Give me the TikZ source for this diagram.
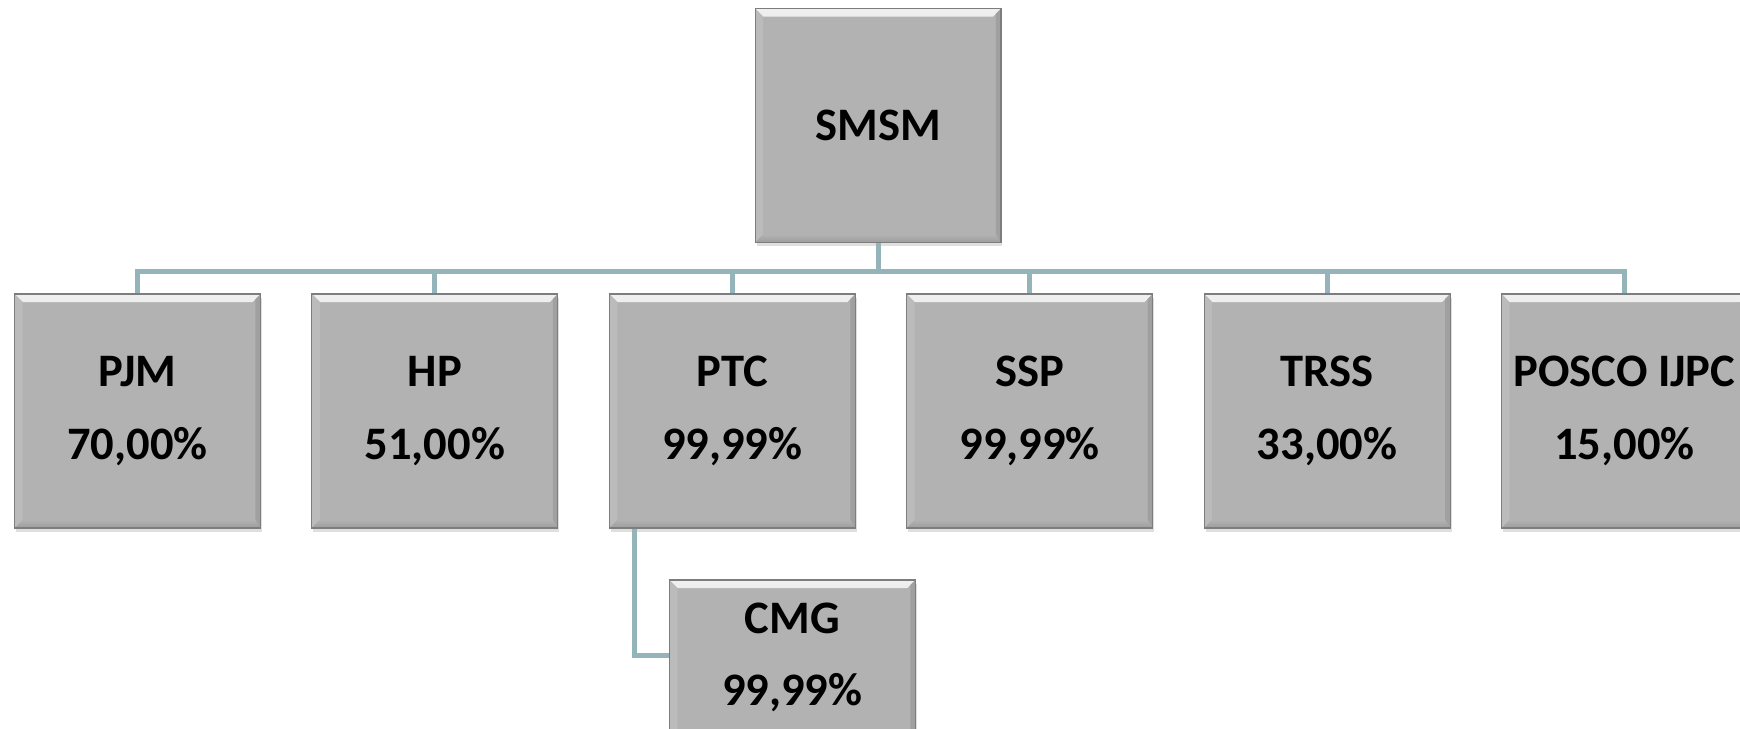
\documentclass[tikz,border=0pt]{standalone}
\usepackage{fontspec}
\setmainfont{Carlito}
\usepackage{xcolor}
\usetikzlibrary{positioning,shadows}

\definecolor{boxgray}{RGB}{178,178,178}
\definecolor{edgegray}{RGB}{125,125,125}
\definecolor{linkteal}{RGB}{147,181,185}

% bevel drawn inside every box
\newcommand{\boxbevel}{%
  \shade[top color=white!80!boxgray, bottom color=boxgray] (path picture bounding box.north west) -- (path picture bounding box.north east) -- ++(-0.16cm,-0.16cm) -- ([shift={(0.16cm,-0.16cm)}]path picture bounding box.north west) -- cycle;
  \fill[boxgray!88!white] (path picture bounding box.north west) -- ([shift={(0.16cm,-0.16cm)}]path picture bounding box.north west) -- ([shift={(0.16cm,0.16cm)}]path picture bounding box.south west) -- (path picture bounding box.south west) -- cycle;
  \fill[boxgray!90!black] (path picture bounding box.north east) -- ([shift={(-0.1cm,-0.1cm)}]path picture bounding box.north east) -- ([shift={(-0.1cm,0.16cm)}]path picture bounding box.south east) -- (path picture bounding box.south east) -- cycle;
  \shade[top color=boxgray, bottom color=boxgray!88!black] (path picture bounding box.south west) -- ([shift={(0.16cm,0.16cm)}]path picture bounding box.south west) -- ([shift={(-0.1cm,0.16cm)}]path picture bounding box.south east) -- (path picture bounding box.south east) -- cycle;
}

\begin{document}
\begin{tikzpicture}[
    x=0.02cm, y=-0.02cm,
    node distance=1.008cm,
    company/.style={rectangle, draw=edgegray, line width=0.6pt, fill=boxgray, minimum width=4.92cm, minimum height=4.68cm, inner sep=0pt, align=center, font=\fontsize{26.5}{41.5}\selectfont\bfseries, drop shadow={shadow xshift=0.03cm, shadow yshift=-0.08cm, opacity=0.25}, path picture={\boxbevel}},
    link/.style={draw=linkteal, line width=0.1cm}
]
\path[use as bounding box, clip] (0,0) rectangle (1740,729);

\node[company] (smsm) at (878,125.5) {SMSM};

\node[company] (pjm) at (137.5,411) {PJM\\70,00\%};
\node[company, right=of pjm] (hp) {HP\\51,00\%};
\node[company, right=of hp] (ptc) {PTC\\99,99\%};
\node[company, right=of ptc] (ssp) {SSP\\99,99\%};
\node[company, right=of ssp] (trss) {TRSS\\33,00\%};
\node[company, right=of trss] (posco) {POSCO IJPC\\15,00\%};

\node[company, below=1.02cm of ptc, xshift=1.2cm, align=none, text height=1.06cm, text depth=3.62cm] (cmg) {\begin{tabular}[t]{@{}c@{}}CMG\\99,99\%\end{tabular}};

\foreach \n in {pjm,hp,ptc,ssp,trss,posco}
  \draw[link] (smsm.south) -- ++(0,28) -| (\n.north);
\draw[link] ([xshift=0.52cm]ptc.south west) |- ([yshift=-1.52cm]cmg.north west);

\end{tikzpicture}
\end{document}
